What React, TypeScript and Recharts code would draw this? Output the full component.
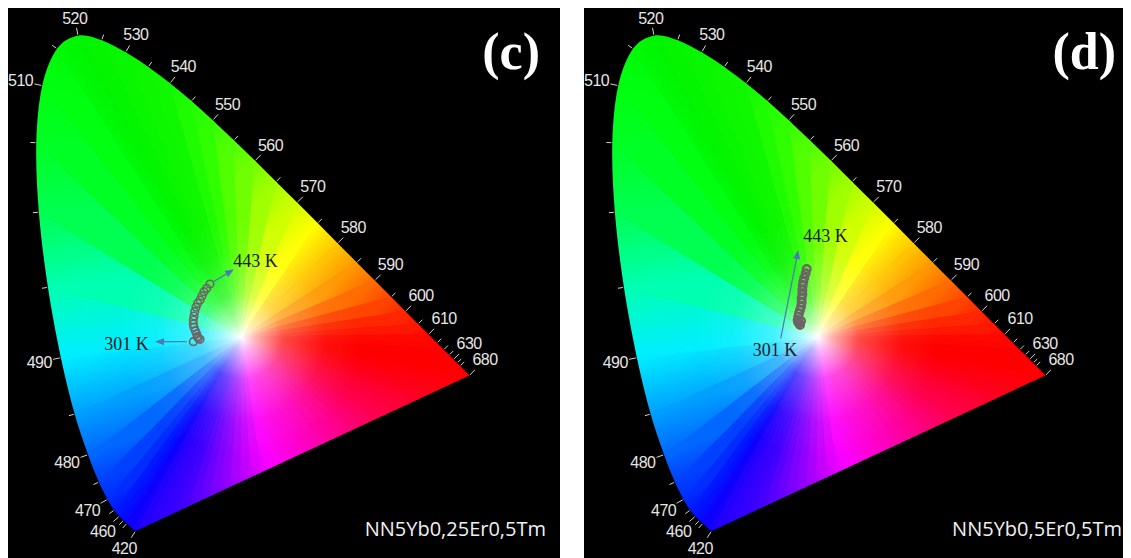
import React from 'react';
import { ScatterChart, Scatter, XAxis, YAxis } from 'recharts';

// CIE 1931 spectral locus (2 deg observer), 420-680 nm
const locusNm = [420, 425, 430, 435, 440, 445, 450, 455, 460, 465, 470, 475, 480, 485, 490, 495, 500, 505, 510, 515, 520, 525, 530, 535, 540, 545, 550, 555, 560, 565, 570, 575, 580, 585, 590, 595, 600, 605, 610, 615, 620, 625, 630, 635, 640, 645, 650, 660, 670, 680];
const locusX = [0.1714, 0.1703, 0.1689, 0.1669, 0.1644, 0.1611, 0.1566, 0.1510, 0.1440, 0.1355, 0.1241, 0.1096, 0.0913, 0.0687, 0.0454, 0.0235, 0.0082, 0.0039, 0.0139, 0.0389, 0.0743, 0.1142, 0.1547, 0.1929, 0.2296, 0.2658, 0.3016, 0.3373, 0.3731, 0.4087, 0.4441, 0.4788, 0.5125, 0.5448, 0.5752, 0.6029, 0.6270, 0.6482, 0.6658, 0.6801, 0.6915, 0.7006, 0.7079, 0.7140, 0.7190, 0.7230, 0.7260, 0.7300, 0.7320, 0.7347];
const locusY = [0.0051, 0.0058, 0.0069, 0.0086, 0.0109, 0.0138, 0.0177, 0.0227, 0.0297, 0.0399, 0.0578, 0.0868, 0.1327, 0.2007, 0.2950, 0.4127, 0.5384, 0.6548, 0.7502, 0.8120, 0.8338, 0.8262, 0.8059, 0.7816, 0.7543, 0.7243, 0.6923, 0.6589, 0.6245, 0.5896, 0.5547, 0.5202, 0.4866, 0.4544, 0.4242, 0.3965, 0.3725, 0.3514, 0.3340, 0.3197, 0.3083, 0.2993, 0.2920, 0.2859, 0.2809, 0.2770, 0.2740, 0.2700, 0.2680, 0.2653];

const tickNm = [420, 450, 455, 460, 465, 470, 475, 480, 485, 490, 495, 500, 505, 510, 515, 520, 525, 530, 535, 540, 545, 550, 555, 560, 565, 570, 575, 580, 585, 590, 595, 600, 605, 610, 615, 620, 625, 630, 635, 640, 680];
const labelNm = [420, 460, 470, 480, 490, 510, 520, 530, 540, 550, 560, 570, 580, 590, 600, 610, 630, 680];

const whitePoint = { x: 0.35, y: 0.33 };

// (c) NN5Yb0,25Er0,5Tm, 301 K -> 443 K
const cTempX = [0.2689, 0.2802, 0.2773, 0.2756, 0.2746, 0.2722, 0.2700, 0.2689, 0.2689, 0.2700, 0.2712, 0.2734, 0.2763, 0.2802, 0.2835, 0.2869, 0.2915, 0.2970];
const cTempY = [0.3218, 0.3258, 0.3275, 0.3302, 0.3347, 0.3402, 0.3459, 0.3514, 0.3581, 0.3648, 0.3720, 0.3794, 0.3860, 0.3916, 0.3983, 0.4055, 0.4111, 0.4183];

// (d) NN5Yb0,5Er0,5Tm, 301 K -> 443 K
const dTempX = [0.3207, 0.3190, 0.3173, 0.3224, 0.3168, 0.3178, 0.3190, 0.3207, 0.3224, 0.3235, 0.3235, 0.3246, 0.3246, 0.3252, 0.3262, 0.3279, 0.3303, 0.3320];
const dTempY = [0.3497, 0.3526, 0.3548, 0.3564, 0.3581, 0.3636, 0.3693, 0.3748, 0.3804, 0.3877, 0.3944, 0.4011, 0.4083, 0.4155, 0.4222, 0.4289, 0.4362, 0.4434];

const cArrows = [
  { x1: 0.2578, y1: 0.3218, x2: 0.2042, y2: 0.3218 },
  { x1: 0.3026, y1: 0.4222, x2: 0.3376, y2: 0.4429 },
];
const dArrows = [{ x1: 0.2881, y1: 0.3275, x2: 0.3178, y2: 0.4752 }];

const cTempLabels = [
  { text: '301 K', x: 0.1561, y: 0.3179 },
  { text: '443 K', x: 0.3738, y: 0.4568 },
];
const dTempLabels = [
  { text: '301 K', x: 0.2785, y: 0.3079 },
  { text: '443 K', x: 0.3637, y: 0.4978 },
];

// display colours along the locus and the purple line (0 = 420 end, 1 = 680 end)
const hueStops: [number, string][] = [
  [420, '#1a00ff'], [450, '#0a00ff'], [465, '#0018ff'], [475, '#0040ff'], [480, '#0068ff'],
  [485, '#00a0ff'], [490, '#00eeff'], [495, '#00ffb0'], [500, '#00ff50'], [505, '#00ff24'],
  [510, '#00ff10'], [520, '#00f400'], [540, '#10f800'], [550, '#30ff00'], [560, '#70ff00'],
  [565, '#a0ff00'], [570, '#d0ff00'], [575, '#ffff00'], [580, '#ffc800'], [585, '#ff9800'],
  [590, '#ff6c00'], [595, '#ff4400'], [600, '#ff2600'], [610, '#ff0800'], [620, '#ff0000'], [680, '#ff0000'],
];
const purpleStops: [number, string][] = [
  [0, '#1a00ff'], [0.15, '#4000ff'], [0.28, '#9000ff'], [0.41, '#ff00ff'], [0.55, '#ff00b0'], [0.72, '#ff0050'], [0.88, '#ff0018'], [1, '#ff0000'],
];
const arrowColor = '#4a78b8';
const dotColor = '#6d6466';

type Pt = { x: number; y: number };

const hexRgb = (h: string) => [1, 3, 5].map((i) => parseInt(h.slice(i, i + 2), 16));
const mix = (a: string, b: string, t: number) => {
  const A = hexRgb(a), B = hexRgb(b);
  return '#' + A.map((v, i) => Math.round(v + (B[i] - v) * t).toString(16).padStart(2, '0')).join('');
};
const lookup = (stops: [number, string][], v: number) => {
  for (let i = 0; i < stops.length - 1; i++) {
    const [n0, c0] = stops[i], [n1, c1] = stops[i + 1];
    if (v >= n0 && v <= n1) return mix(c0, c1, (v - n0) / (n1 - n0));
  }
  return v < stops[0][0] ? stops[0][1] : stops[stops.length - 1][1];
};

function smoothClosed(p: Pt[]) {
  let d = `M${p[0].x},${p[0].y}`;
  for (let i = 0; i < p.length - 1; i++) {
    const p0 = p[i - 1] || p[i], p1 = p[i], p2 = p[i + 1], p3 = p[i + 2] || p2;
    d += ` C${p1.x + (p2.x - p0.x) / 6},${p1.y + (p2.y - p0.y) / 6} ${p2.x - (p3.x - p1.x) / 6},${p2.y - (p3.y - p1.y) / 6} ${p2.x},${p2.y}`;
  }
  return d + ' Z';
}

// gets the scaled points of [white, ...locus] from the Scatter line
function Horseshoe(props: any) {
  const { points, idPrefix } = props;
  if (!points || points.length < 3) return null;
  const w: Pt = points[0];
  const edge: Pt[] = points.slice(1);
  const a0 = edge[0], b0 = edge[edge.length - 1];

  // boundary with colours: locus, then the purple line back to 420
  const ring: { p: Pt; c: string }[] = edge.map((p, i) => ({ p, c: lookup(hueStops, locusNm[i]) }));
  const nPur = 32;
  for (let k = 1; k <= nPur; k++) {
    const t = k / nPur;
    ring.push({ p: { x: b0.x + (a0.x - b0.x) * t, y: b0.y + (a0.y - b0.y) * t }, c: lookup(purpleStops, 1 - t) });
  }

  const ext = (p: Pt) => ({ x: w.x + (p.x - w.x) * 1.08, y: w.y + (p.y - w.y) * 1.08 });
  const defs: React.ReactNode[] = [];
  const tris: React.ReactNode[] = [];
  for (let i = 0; i < ring.length - 1; i++) {
    const A = ring[i], B = ring[i + 1];
    const gid = `${idPrefix}-g${i}`;
    defs.push(
      <linearGradient key={gid} id={gid} gradientUnits="userSpaceOnUse" x1={A.p.x} y1={A.p.y} x2={B.p.x} y2={B.p.y}>
        <stop offset={0} stopColor={A.c} />
        <stop offset={1} stopColor={B.c} />
      </linearGradient>
    );
    const ea = ext(A.p), eb = ext(B.p);
    tris.push(
      <polygon key={gid} points={`${w.x},${w.y} ${ea.x},${ea.y} ${eb.x},${eb.y}`} fill={`url(#${gid})`} stroke={`url(#${gid})`} strokeWidth={1} />
    );
  }
  const clipId = `${idPrefix}-clip`;
  const outline = smoothClosed(edge);

  return (
    <g>
      <defs>
        {defs}
        <radialGradient id={`${idPrefix}-fade`} gradientUnits="userSpaceOnUse" cx={w.x} cy={w.y} r={120}>
          <stop offset={0} stopColor="#ffffff" stopOpacity={1} />
          <stop offset={0.12} stopColor="#ffffff" stopOpacity={0.7} />
          <stop offset={0.35} stopColor="#ffffff" stopOpacity={0.28} />
          <stop offset={0.7} stopColor="#ffffff" stopOpacity={0.06} />
          <stop offset={1} stopColor="#ffffff" stopOpacity={0} />
        </radialGradient>
        <clipPath id={clipId}>
          <path d={outline} />
        </clipPath>
      </defs>
      <g clipPath={`url(#${clipId})`}>
        {tris}
        <path d={outline} fill={`url(#${idPrefix}-fade)`} />
      </g>
    </g>
  );
}

function WavelengthTicks(props: any) {
  const { points } = props;
  if (!points || points.length < 2) return null;
  const out: React.ReactNode[] = [];
  locusNm.forEach((nm, i) => {
    if (!tickNm.includes(nm)) return;
    const p = points[i];
    const a = points[Math.max(0, i - 1)], b = points[Math.min(points.length - 1, i + 1)];
    let tx = b.x - a.x, ty = b.y - a.y;
    const l = Math.hypot(tx, ty) || 1;
    tx /= l; ty /= l;
    const nx = ty, ny = -tx;
    const major = labelNm.includes(nm);
    const tl = major ? 7 : 5;
    out.push(<line key={'t' + nm} x1={p.x + nx} y1={p.y + ny} x2={p.x + nx * (tl + 1)} y2={p.y + ny * (tl + 1)} stroke="#d4d4d4" strokeWidth={1} />);
    if (major) {
      const d = tl + 2 + Math.abs(nx) * 12 + Math.abs(ny) * 6.5;
      out.push(
        <text key={'l' + nm} x={p.x + nx * d} y={p.y + ny * d} textAnchor="middle" dominantBaseline="central" letterSpacing={-0.5}
          fill="#e6e6e6" fontSize={16} fontFamily="'Liberation Sans', Arial, sans-serif">{nm}</text>
      );
    }
  });
  return <g>{out}</g>;
}

function Arrow(props: any) {
  const { points } = props;
  if (!points || points.length < 2) return null;
  const [s, e] = points;
  const dx = e.x - s.x, dy = e.y - s.y;
  const l = Math.hypot(dx, dy) || 1;
  const ux = dx / l, uy = dy / l;
  const hl = 9, hw = 3.5;
  const bx = e.x - ux * hl, by = e.y - uy * hl;
  return (
    <g>
      <line x1={s.x} y1={s.y} x2={bx} y2={by} stroke={arrowColor} strokeWidth={1.2} />
      <polygon points={`${e.x},${e.y} ${bx - uy * hw},${by + ux * hw} ${bx + uy * hw},${by - ux * hw}`} fill={arrowColor} />
    </g>
  );
}

const noShape = () => <g />;

function CiePanel({ id, tx, ty, arrows, labels, letter, sample, dotW }: any) {
  const locus = locusNm.map((nm, i) => ({ x: locusX[i], y: locusY[i], nm }));
  const shoe = [{ x: whitePoint.x, y: whitePoint.y }, ...locus];
  const temps = tx.map((x: number, i: number) => ({ x, y: ty[i] }));
  return (
    <div style={{ position: 'relative', width: 552, height: 550 }}>
      <ScatterChart width={552} height={550} margin={{ top: 18, right: 52, bottom: 24, left: 26 }}>
        <XAxis type="number" dataKey="x" domain={[0, 0.8]} hide />
        <YAxis type="number" dataKey="y" domain={[0, 0.85]} hide />
        <Scatter data={shoe} line={<Horseshoe idPrefix={id} />} shape={noShape} isAnimationActive={false} />
        <Scatter data={locus} line={<WavelengthTicks />} shape={noShape} isAnimationActive={false} />
        {arrows.map((a: any, i: number) => (
          <Scatter key={i} data={[{ x: a.x1, y: a.y1 }, { x: a.x2, y: a.y2 }]} line={<Arrow />} shape={noShape} isAnimationActive={false} />
        ))}
        <Scatter data={temps} isAnimationActive={false}
          shape={(p: any) => <circle cx={p.cx} cy={p.cy} r={3.8} fill="none" stroke={dotColor} strokeWidth={dotW} />} />
        <Scatter data={labels} isAnimationActive={false}
          shape={(p: any) => (
            <text x={p.cx} y={p.cy} textAnchor="middle" dominantBaseline="central" fontSize={18}
              fontFamily="'Liberation Serif', 'Times New Roman', serif" fill="#1c1c24">{p.payload.text}</text>
          )} />
      </ScatterChart>
      <svg width={552} height={550} style={{ position: 'absolute', left: 0, top: 0, pointerEvents: 'none' }}>
        <text x={532} y={61} textAnchor="end" fontSize={52} fontWeight="bold" fill="#ffffff" fontFamily="'Liberation Serif', 'Times New Roman', serif">{letter}</text>
        <text x={538} y={528} textAnchor="end" fontSize={20} fill="#f0f0f0" fontFamily="'Open Sans', sans-serif">{sample}</text>
      </svg>
    </div>
  );
}

export default function App() {
  return (
    <div style={{ position: 'relative', width: 1123, height: 550, background: '#fff', overflow: 'hidden' }}>
      <div style={{ position: 'absolute', left: 0, top: 0, width: 552, height: 550, background: '#000', overflow: 'hidden' }}>
        <CiePanel id="c" tx={cTempX} ty={cTempY} arrows={cArrows} labels={cTempLabels} letter="(c)" sample="NN5Yb0,25Er0,5Tm" dotW={1.6} />
      </div>
      <div style={{ position: 'absolute', left: 576, top: 0, width: 547, height: 550, background: '#000', overflow: 'hidden' }}>
        <CiePanel id="d" tx={dTempX} ty={dTempY} arrows={dArrows} labels={dTempLabels} letter="(d)" sample="NN5Yb0,5Er0,5Tm" dotW={2.4} />
      </div>
    </div>
  );
}
